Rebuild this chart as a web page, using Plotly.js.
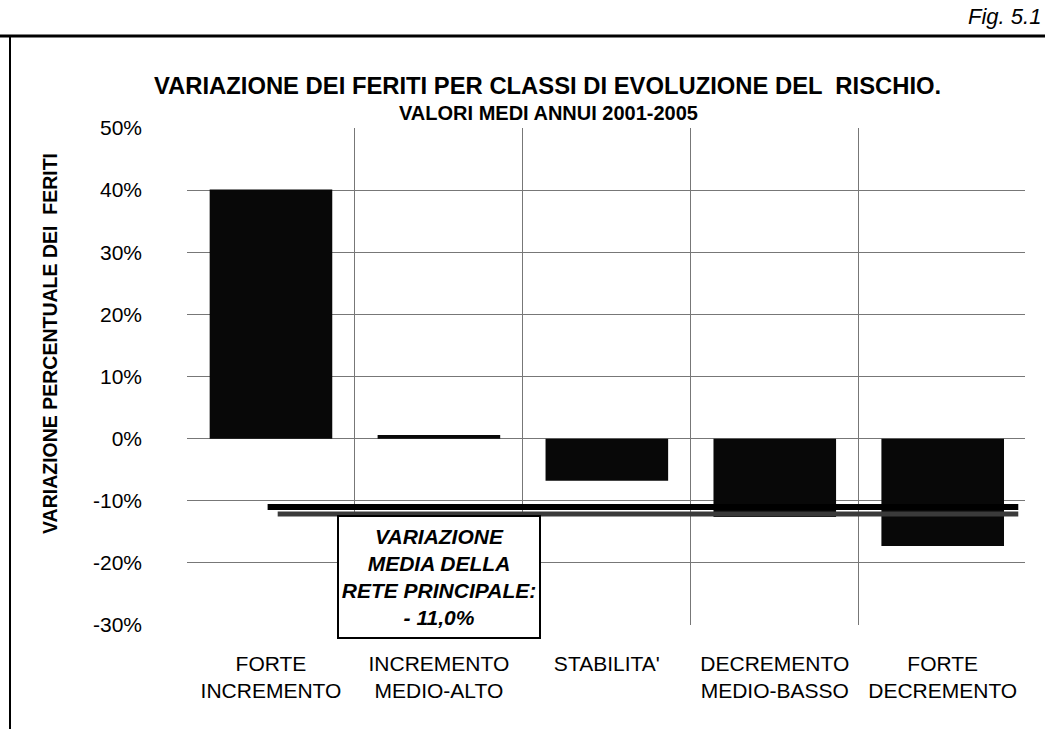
<!DOCTYPE html>
<html>
<head>
<meta charset="utf-8">
<script src="https://cdn.plot.ly/plotly-3.0.1.min.js"></script>
<style>
html,body{margin:0;padding:0;background:#fff;}
#chart{width:1045px;height:729px;}
</style>
</head>
<body>
<div id="chart"></div>
<script>
// ---- data ----
var categories = ['FORTE<br>INCREMENTO', 'INCREMENTO<br>MEDIO-ALTO', "STABILITA'<br> ", 'DECREMENTO<br>MEDIO-BASSO', 'FORTE<br>DECREMENTO'];
var variazione = [40.1, 0.6, -6.8, -12.6, -17.3];
var mediaRete = -11.0;
var yTickVals = [50, 40, 30, 20, 10, 0, -10, -20, -30];
var yTickText = ['50%', '40%', '30%', '20%', '10%', '0%', '-10%', '-20%', '-30%'];
var titleLine1 = 'VARIAZIONE DEI FERITI PER CLASSI DI EVOLUZIONE DEL  RISCHIO.';
var titleLine2 = 'VALORI MEDI ANNUI 2001-2005';
var yTitleText = 'VARIAZIONE PERCENTUALE DEI  FERITI';
var figText = 'Fig. 5.1';

// ---- layout helpers (pixel -> paper) ----
var W = 1045, H = 729, mL = 187, mR = 20, mT = 128, mB = 104;
var pw = W - mL - mR, ph = H - mT - mB;
function px(x){ return (x - mL) / pw; }
function py(y){ return (H - mB - y) / ph; }

var FONT = 'Liberation Sans, Arial, sans-serif';

var boxLabel = '<b><i>VARIAZIONE<br>MEDIA DELLA<br>RETE PRINCIPALE:<br>- ' +
  Math.abs(mediaRete).toFixed(1).replace('.', ',') + '%</i></b>';

var trace = {
  type: 'bar',
  x: categories,
  y: variazione,
  marker: {color: '#080808', line: {width: 0}},
  hoverinfo: 'skip'
};

var layout = {
  width: W, height: H,
  margin: {l: mL, r: mR, t: mT, b: mB, pad: 0},
  paper_bgcolor: '#ffffff',
  plot_bgcolor: '#ffffff',
  showlegend: false,
  bargap: 0.27,
  font: {family: FONT, color: '#000'},
  annotations: [
    {text: '<b>' + titleLine1 + '</b>', xref: 'paper', yref: 'paper',
     x: px(547), y: py(86), xanchor: 'center', yanchor: 'middle', showarrow: false,
     font: {family: FONT, size: 23.8, color: '#000'}},
    {text: '<b>' + titleLine2 + '</b>', xref: 'paper', yref: 'paper',
     x: px(548), y: py(113), xanchor: 'center', yanchor: 'middle', showarrow: false,
     font: {family: FONT, size: 20, color: '#000'}},
    {text: boxLabel, xref: 'x', yref: 'y', x: 1, y: -22.2,
     xanchor: 'center', yanchor: 'middle', showarrow: false,
     width: 196, height: 116, align: 'center', valign: 'middle',
     bgcolor: '#ffffff', bordercolor: '#000', borderwidth: 2, borderpad: 2,
     font: {family: FONT, size: 21, color: '#000'}},
    {text: '<b>' + yTitleText + '</b>', xref: 'paper', yref: 'paper',
     x: px(50), y: py(344), xanchor: 'center', yanchor: 'middle',
     textangle: -90, showarrow: false,
     font: {family: FONT, size: 19.5, color: '#000'}},
    {text: '<i>' + figText + '</i>', xref: 'paper', yref: 'paper',
     x: px(1043), y: py(31), xanchor: 'right', yanchor: 'bottom',
     showarrow: false, font: {family: FONT, size: 22, color: '#000'}}
  ],
  xaxis: {
    type: 'category',
    range: [-0.5, 4.49],
    tickson: 'boundaries',
    showgrid: true,
    gridcolor: '#777',
    gridwidth: 1,
    showline: false,
    zeroline: false,
    ticks: '',
    ticklabelstandoff: 24,
    tickfont: {family: FONT, size: 21, color: '#000'},
    fixedrange: true
  },
  yaxis: {
    range: [-30, 50],
    tickvals: yTickVals,
    ticktext: yTickText,
    showgrid: true,
    gridcolor: '#777',
    gridwidth: 1,
    zeroline: false,
    showline: false,
    ticks: '',
    ticklabelstandoff: 44,
    tickfont: {family: FONT, size: 21, color: '#000'},
    fixedrange: true
  },
  shapes: [
    // shadow of average line
    {type: 'line', xref: 'x', yref: 'y', x0: 0.04, x1: 4.45,
     ysizemode: 'pixel', yanchor: mediaRete, y0: -7, y1: -7,
     line: {color: '#3a3a3a', width: 5}, layer: 'above'},
    // average line
    {type: 'line', xref: 'x', yref: 'y', x0: -0.02, x1: 4.45,
     y0: mediaRete, y1: mediaRete,
     line: {color: '#000', width: 6}, layer: 'above'},
    // outer frame: top line
    {type: 'line', xref: 'paper', yref: 'paper', x0: px(0), x1: px(1045), y0: py(36), y1: py(36),
     line: {color: '#000', width: 3}},
    // outer frame: left line
    {type: 'line', xref: 'paper', yref: 'paper', x0: px(10), x1: px(10), y0: py(36), y1: py(729),
     line: {color: '#000', width: 2}}
  ]
};

Plotly.newPlot('chart', [trace], layout, {displayModeBar: false, staticPlot: true});
</script>
</body>
</html>
